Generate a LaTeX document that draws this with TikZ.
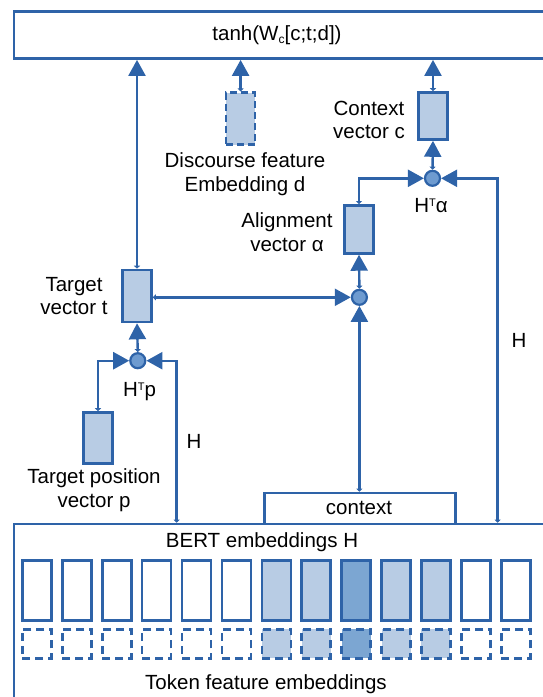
\documentclass[tikz,border=0pt]{standalone}
\usepackage{fontspec}
\setmainfont{Liberation Sans}
\usetikzlibrary{arrows.meta}
\definecolor{ln}{RGB}{46,99,168}
\definecolor{lf}{RGB}{184,204,228}
\definecolor{df}{RGB}{124,166,210}
\definecolor{cf}{RGB}{110,155,208}
\newcommand{\supT}{\raisebox{6.6pt}{\fontsize{11}{11}\selectfont T}}
\newcommand{\subC}{\raisebox{-0.15em}{\fontsize{12}{12}\selectfont c}}
\begin{document}
\begin{tikzpicture}[x=1pt,y=-1pt,
  every node/.style={font=\fontsize{20.5}{23.5}\selectfont, inner sep=0pt, text=black},
  vec/.style={draw=ln, line width=2.6pt, fill=lf, minimum width=29pt, minimum height=52pt},
  dvec/.style={vec, dash pattern=on 7pt off 4pt},
  bigbox/.style={draw=ln, line width=2.6pt, fill=white, anchor=north west},
  dot/.style={circle, draw=ln, line width=2.2pt, fill=cf, minimum size=15pt},
  conn/.style={draw=ln, line width=2.4pt, {Triangle[length=3pt,width=6pt]}-{Triangle[length=16pt,width=17pt]}},
  lab/.style={align=center},
  tok/.style={draw=ln, line width=2.6pt, minimum width=29pt, minimum height=60pt},
  dtok/.style={draw=ln, line width=2.6pt, dash pattern=on 8pt off 5pt, minimum width=29pt, minimum height=29pt}
]
\clip (0,0) rectangle (543,697);
\useasboundingbox (0,0) rectangle (543,697);

% big boxes
\node[bigbox, minimum width=530pt, minimum height=47pt] (top) at (12.8,10.3) {};
\node at (277,35) {tanh(W\subC[c;t;d])};
\node[bigbox, minimum width=530pt, minimum height=190pt] (bot) at (12.8,522.7) {};
\node[bigbox, minimum width=191pt, minimum height=31pt] (ctx) at (263,491.7) {};
\node at (359,508) {context};
\node at (262,542) {BERT embeddings H};
\node at (266,684) {Token feature embeddings};

% token embeddings
\foreach \i/\f in {0/white,1/white,2/white,3/white,4/white,5/white,6/lf,7/lf,8/df,9/lf,10/lf,11/white,12/white}{
  \node[tok, fill=\f] (tok\i) at ({36.9+39.9*\i},590.5) {};
  \node[dtok, fill=\f] (ftok\i) at ({36.9+39.9*\i},643.8) {};
}

% vectors
\node[dvec, minimum height=52pt] (d) at (240.6,118.7) {};
\node[vec, minimum height=47pt] (c) at (433,116) {};
\node[vec, minimum height=48pt] (al) at (359,229.4) {};
\node[vec, minimum height=52pt] (t) at (137,296) {};
\node[vec, minimum height=51pt] (p) at (98,438) {};

% junctions
\node[dot] (ca) at (432.5,178.3) {};
\node[dot] (cb) at (359.4,297.3) {};
\node[dot] (cp) at (137.8,360.7) {};

% labels
\node[lab] at (369,120) {Context\\vector c};
\node[lab] at (245,174) {Discourse feature\\Embedding d};
\node[lab] at (287,232) {Alignment\\vector α};
\node[lab] at (74,296) {Target\\vector t};
\node[lab] at (94,490) {Target position\\vector p};
\node at (431,206) {H\supT α};
\node at (139.5,392) {H\supT p};
\node at (194,441.7) {H};
\node at (519,340) {H};

% coordinates on big boxes
\coordinate (h1) at (176.6,522.7);
\coordinate (h2) at (497.6,522.7);

% connectors
\draw[conn] (t.north) -- (t.north |- top.south);
\draw[conn] (d.north) -- (d.north |- top.south);
\draw[conn] (c.north) -- (c.north |- top.south);
\draw[conn] (ca.north) -- (c.south);
\draw[conn] (al.north) |- (ca.west);
\draw[conn] (h2) |- (ca.east);
\draw[conn] (cb.north) -- (al.south);
\draw[conn] (t.east |- cb.west) -- (cb.west);
\draw[conn] (cb.south |- ctx.north) -- (cb.south);
\draw[conn] (cp.north) -- (t.south);
\draw[conn] (p.north) |- (cp.west);
\draw[conn] (h1) |- (cp.east);
\end{tikzpicture}
\end{document}
